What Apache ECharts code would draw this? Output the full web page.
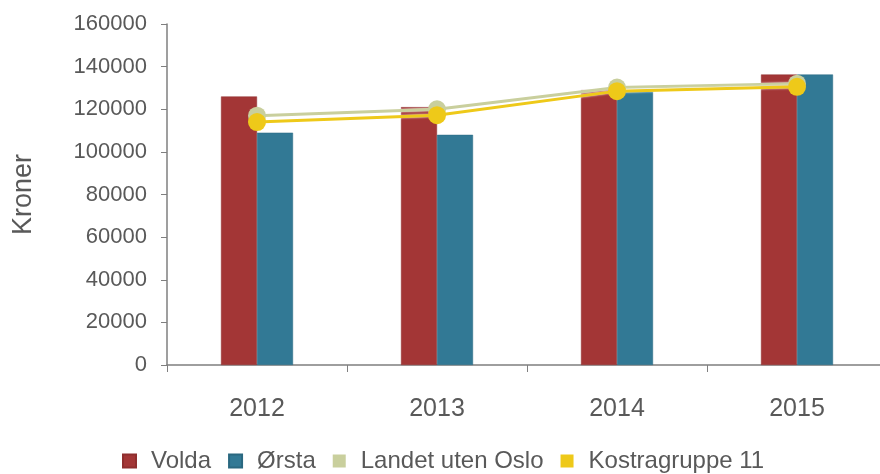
<!DOCTYPE html>
<html>
<head>
<meta charset="utf-8">
<title>Kroner</title>
<script src="https://cdn.jsdelivr.net/npm/echarts@6/dist/echarts.min.js"></script>
<style>
  html, body { margin: 0; padding: 0; background: #fff; overflow: hidden; }
  #chart { width: 900px; height: 474px; }
</style>
</head>
<body>
<div id="chart"></div>
<script>
const years = ['2012', '2013', '2014', '2015']
const volda = [126000, 121000, 129000, 136300]
const orsta = [109000, 108000, 128500, 136300]
const landetUtenOslo = [117000, 120000, 130200, 132000]
const kostragruppe11 = [114000, 117200, 128500, 130500]

const textColor = '#595959'
const font = 'Liberation Sans, Arial, sans-serif'

const chart = echarts.init(document.getElementById('chart'), null, { renderer: 'canvas' })

const lineSeries = (name, data, color) => ({
  name,
  type: 'line',
  data,
  symbol: 'circle',
  symbolSize: 18,
  z: 3,
  lineStyle: { color, width: 3, shadowColor: 'rgba(255,255,255,0.9)', shadowBlur: 2 },
  itemStyle: { color },
})

chart.setOption({
  animation: false,
  textStyle: { fontFamily: font },
  grid: { left: 167, top: 24, width: 720, height: 341 },
  legend: {
    top: 444,
    left: 117,
    itemWidth: 13,
    itemHeight: 13,
    itemGap: 17,
    icon: 'rect',
    textStyle: { color: textColor, fontSize: 24, fontFamily: font, padding: [0, 0, 0, 10] },
    data: ['Volda', 'Ørsta', 'Landet uten Oslo', 'Kostragruppe 11'],
  },
  xAxis: {
    type: 'category',
    data: years,
    axisLine: { lineStyle: { color: '#7f7f7f', width: 1.5 } },
    axisTick: { show: true, length: 7, lineStyle: { color: '#7f7f7f' } },
    axisLabel: { color: textColor, fontSize: 25, margin: 32 },
  },
  yAxis: {
    type: 'value',
    min: 0,
    max: 160000,
    interval: 20000,
    name: 'Kroner',
    nameLocation: 'middle',
    nameGap: 130,
    nameTextStyle: { color: textColor, fontSize: 27, fontFamily: font },
    axisLine: { show: true, lineStyle: { color: '#7f7f7f', width: 1.5 } },
    axisTick: { show: true, length: 6, lineStyle: { color: '#7f7f7f' } },
    axisLabel: { color: textColor, fontSize: 22, margin: 20, formatter: (v) => String(v) },
    splitLine: { show: false },
  },
  series: [
    {
      name: 'Volda',
      type: 'bar',
      data: volda,
      barWidth: 36,
      barGap: 0,
      itemStyle: { color: '#a33636', borderColor: '#8f2e2e', borderWidth: 0.5 },
    },
    {
      name: 'Ørsta',
      type: 'bar',
      data: orsta,
      barWidth: 36,
      barGap: 0,
      itemStyle: { color: '#327995', borderColor: '#2a6880', borderWidth: 0.5 },
    },
    lineSeries('Landet uten Oslo', landetUtenOslo, '#c9cf9d'),
    lineSeries('Kostragruppe 11', kostragruppe11, '#eec919'),
  ],
})

window.addEventListener('resize', () => chart.resize())
</script>
</body>
</html>
